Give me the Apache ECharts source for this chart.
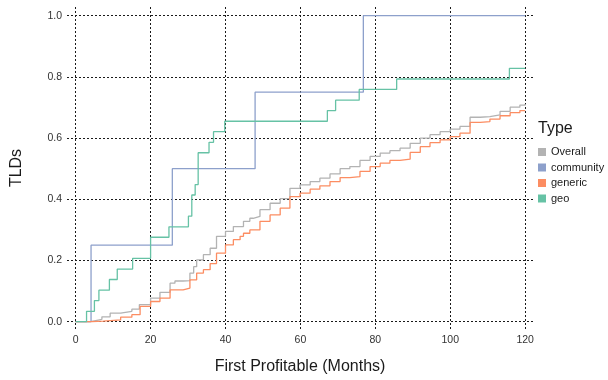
<!DOCTYPE html>
<html>
<head>
<meta charset="utf-8">
<script src="https://cdn.jsdelivr.net/npm/echarts@6/dist/echarts.min.js"></script>
<style>
  html, body { margin: 0; padding: 0; background: #ffffff; }
  #chart { width: 608px; height: 380px; }
</style>
</head>
<body>
<div id="chart"></div>
<script>
// Tick positions shown on the axes
const xTicks = [0, 20, 40, 60, 80, 100, 120];
const yTicks = [0, 0.2, 0.4, 0.6, 0.8, 1.0];

// Legend entries (drawing order)
const typeNames = ['Overall', 'community', 'generic', 'geo'];

// Cumulative share of TLDs that became profitable by month
const overallMonths = [0, 3.8, 5, 7, 9.2, 12, 15, 17, 20, 22.5, 25.2, 26.5, 28.7, 30.5, 31.5, 32.3, 34.1, 35.9, 37.6, 40, 42.1, 44.8, 46.5, 47.4, 49.2, 51.9, 54.6, 57.2, 59.9, 62.6, 65.2, 67.9, 70.6, 73.2, 75.9, 78.6, 81.3, 83.9, 86.6, 89.3, 92.0, 94.6, 97.3, 100, 102.6, 105.3, 108, 110.6, 113.3, 116, 118.6, 120];
const overallShare  = [0, 0.003, 0.008, 0.016, 0.028, 0.034, 0.041, 0.056, 0.077, 0.096, 0.126, 0.133, 0.134, 0.159, 0.18, 0.202, 0.219, 0.24, 0.279, 0.295, 0.311, 0.328, 0.338, 0.344, 0.366, 0.387, 0.402, 0.436, 0.447, 0.458, 0.469, 0.483, 0.5, 0.507, 0.527, 0.54, 0.551, 0.559, 0.567, 0.583, 0.6, 0.611, 0.621, 0.629, 0.638, 0.668, 0.67, 0.676, 0.687, 0.701, 0.708, 0.711];

const communityMonths = [0, 4.1, 25.8, 47.9, 76.8, 120];
const communityShare  = [0, 0.25, 0.5, 0.75, 1.0, 1.0];

const genericMonths = [0, 4.3, 7.4, 12, 15, 17.2, 20, 22.5, 25.2, 28.7, 30.5, 32.3, 34.1, 35.9, 37.6, 40, 42.1, 43.9, 44.8, 46.5, 49.2, 51.9, 54.6, 57.2, 59.9, 62.6, 65.2, 67.9, 70.6, 73.2, 75.9, 78.6, 81.3, 83.9, 86.6, 89.3, 92.0, 94.6, 97.3, 100, 102.6, 105.3, 108, 110.6, 113.3, 116, 118.6, 120];
const genericShare  = [0, 0.002, 0.006, 0.015, 0.023, 0.05, 0.066, 0.077, 0.104, 0.11, 0.137, 0.159, 0.17, 0.19, 0.224, 0.251, 0.268, 0.279, 0.289, 0.3, 0.328, 0.349, 0.371, 0.409, 0.42, 0.433, 0.444, 0.458, 0.471, 0.474, 0.491, 0.507, 0.518, 0.527, 0.531, 0.553, 0.572, 0.585, 0.594, 0.605, 0.616, 0.651, 0.654, 0.662, 0.673, 0.683, 0.69, 0.692];

const geoMonths = [0, 2.9, 5.0, 6.2, 9.0, 11.1, 15.2, 20.0, 24.9, 30.1, 31.0, 31.9, 32.7, 35.6, 36.8, 39.8, 67.2, 69.4, 75.7, 85.7, 115.8, 120];
const geoShare  = [0, 0.034, 0.069, 0.103, 0.138, 0.172, 0.207, 0.276, 0.31, 0.345, 0.414, 0.448, 0.552, 0.586, 0.621, 0.655, 0.69, 0.724, 0.759, 0.793, 0.828, 0.828];

const typeColors = ['#b3b3b3', '#8da0cb', '#fc8d62', '#66c2a5'];

const pairs = (xs, ys) => xs.map((x, i) => [x, ys[i]]);
const seriesData = [
  pairs(overallMonths, overallShare),
  pairs(communityMonths, communityShare),
  pairs(genericMonths, genericShare),
  pairs(geoMonths, geoShare)
];

const font = 'Liberation Sans, Arial, Helvetica, sans-serif';
const gridLine = { show: true, lineStyle: { color: '#1a1a1a', width: 1, type: [2, 2] } };

const chart = echarts.init(document.getElementById('chart'), null, { renderer: 'canvas' });
chart.setOption({
  animation: false,
  backgroundColor: '#ffffff',
  textStyle: { fontFamily: font },
  title: {
    text: 'Type',
    left: 538,
    top: 121,
    padding: 0,
    textStyle: { fontFamily: font, fontSize: 16, fontWeight: 'normal', color: '#1a1a1a' }
  },
  legend: {
    data: typeNames,
    orient: 'vertical',
    left: 538,
    top: 146.5,
    padding: 0,
    icon: 'rect',
    itemWidth: 8,
    itemHeight: 8,
    itemGap: 4.5,
    textStyle: { fontFamily: font, fontSize: 11, color: '#1a1a1a' }
  },
  grid: { left: 67, right: 75, top: 7, bottom: 50, containLabel: false },
  xAxis: {
    type: 'value',
    min: -2.32,
    max: 122.1,
    name: 'First Profitable (Months)',
    nameLocation: 'middle',
    nameGap: 30,
    nameTextStyle: { fontFamily: font, fontSize: 16, color: '#1a1a1a' },
    axisLine: { show: false },
    axisTick: { show: false, customValues: xTicks },
    axisLabel: { customValues: xTicks, margin: 6, fontSize: 10.5, color: '#333333', fontFamily: font },
    splitLine: gridLine
  },
  yAxis: {
    type: 'value',
    min: -0.0238,
    max: 1.0283,
    name: 'TLDs',
    nameLocation: 'middle',
    nameGap: 42.5,
    nameTextStyle: { fontFamily: font, fontSize: 16, color: '#1a1a1a' },
    axisLine: { show: false },
    axisTick: { show: false, customValues: yTicks },
    axisLabel: { customValues: yTicks, margin: 5, fontSize: 10.5, color: '#333333', fontFamily: font,
      formatter: v => v.toFixed(1) },
    splitLine: gridLine
  },
  series: typeNames.map((name, i) => ({
    name: name,
    type: 'line',
    step: 'end',
    data: seriesData[i],
    showSymbol: false,
    symbol: 'none',
    color: typeColors[i],
    lineStyle: { color: typeColors[i], width: 1.3 },
    z: 2 + i
  }))
});
</script>
</body>
</html>
